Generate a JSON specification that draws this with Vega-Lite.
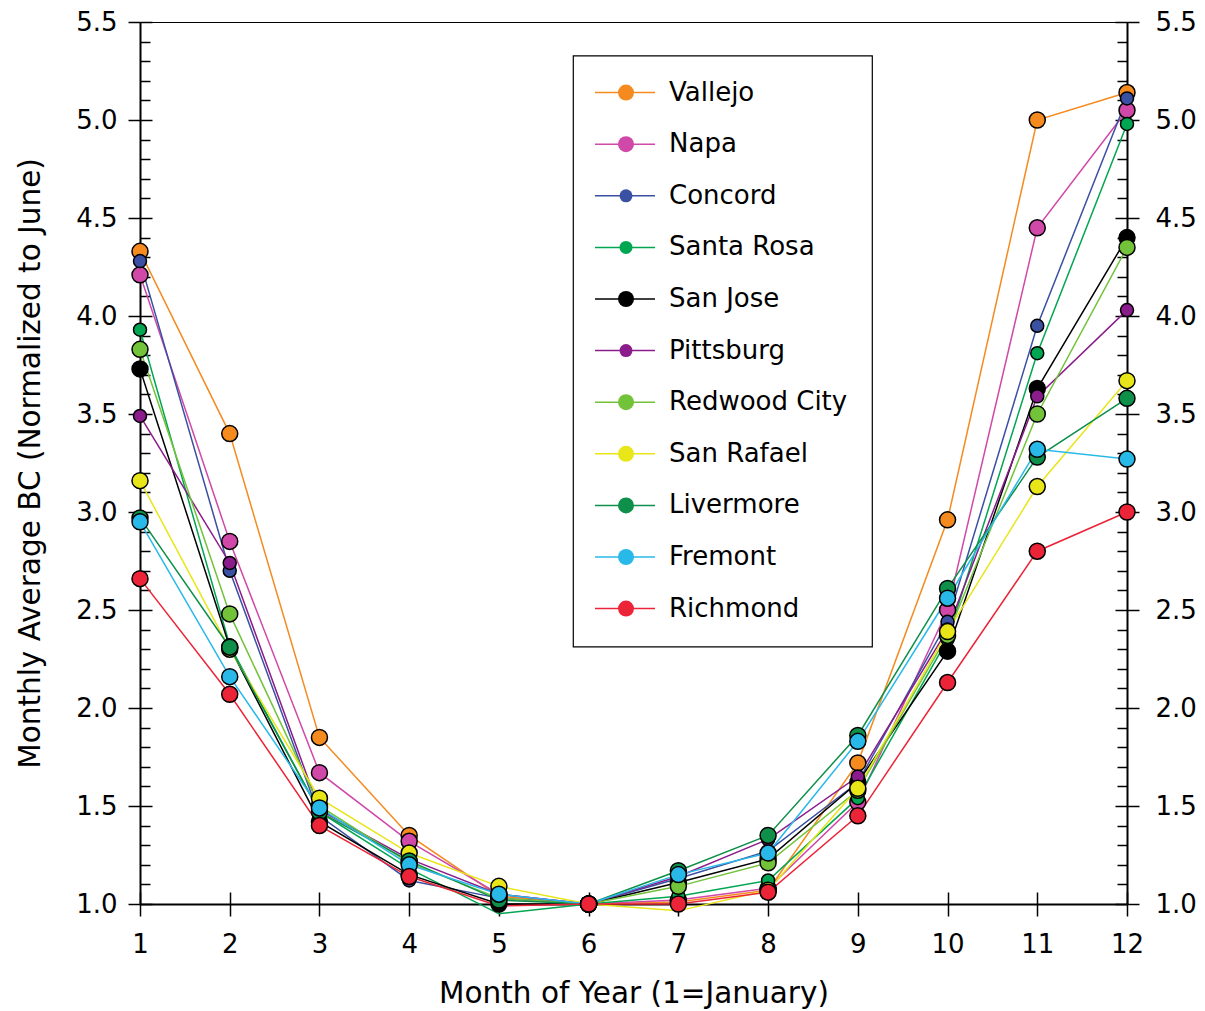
{
  "$schema": "https://vega.github.io/schema/vega-lite/v6.json",
  "width": 987,
  "height": 882,
  "autosize": "none",
  "padding": {"left": 140, "top": 22, "right": 78, "bottom": 107},
  "background": "white",
  "config": {
    "font": "DejaVu Sans",
    "view": {"stroke": "black", "strokeWidth": 1},
    "axis": {"grid": false, "domainColor": "black", "tickColor": "black", "labelColor": "black", "titleColor": "black", "labelFont": "DejaVu Sans", "titleFont": "DejaVu Sans", "titleFontWeight": "normal"},
    "legend": {"strokeWidth": 1.2}
  },
  "data": {"values": [
    {"city": "Vallejo", "month": 1, "bc": 4.33}, {"city": "Vallejo", "month": 2, "bc": 3.40}, {"city": "Vallejo", "month": 3, "bc": 1.85}, {"city": "Vallejo", "month": 4, "bc": 1.35}, {"city": "Vallejo", "month": 5, "bc": 1.04}, {"city": "Vallejo", "month": 6, "bc": 1.0}, {"city": "Vallejo", "month": 7, "bc": 1.01}, {"city": "Vallejo", "month": 8, "bc": 1.07}, {"city": "Vallejo", "month": 9, "bc": 1.72}, {"city": "Vallejo", "month": 10, "bc": 2.96}, {"city": "Vallejo", "month": 11, "bc": 5.00}, {"city": "Vallejo", "month": 12, "bc": 5.14},
    {"city": "Napa", "month": 1, "bc": 4.21}, {"city": "Napa", "month": 2, "bc": 2.85}, {"city": "Napa", "month": 3, "bc": 1.67}, {"city": "Napa", "month": 4, "bc": 1.32}, {"city": "Napa", "month": 5, "bc": 1.05}, {"city": "Napa", "month": 6, "bc": 1.0}, {"city": "Napa", "month": 7, "bc": 1.02}, {"city": "Napa", "month": 8, "bc": 1.08}, {"city": "Napa", "month": 9, "bc": 1.52}, {"city": "Napa", "month": 10, "bc": 2.50}, {"city": "Napa", "month": 11, "bc": 4.45}, {"city": "Napa", "month": 12, "bc": 5.05},
    {"city": "Concord", "month": 1, "bc": 4.28}, {"city": "Concord", "month": 2, "bc": 2.70}, {"city": "Concord", "month": 3, "bc": 1.45}, {"city": "Concord", "month": 4, "bc": 1.12}, {"city": "Concord", "month": 5, "bc": 1.03}, {"city": "Concord", "month": 6, "bc": 1.0}, {"city": "Concord", "month": 7, "bc": 1.13}, {"city": "Concord", "month": 8, "bc": 1.27}, {"city": "Concord", "month": 9, "bc": 1.62}, {"city": "Concord", "month": 10, "bc": 2.44}, {"city": "Concord", "month": 11, "bc": 3.95}, {"city": "Concord", "month": 12, "bc": 5.11},
    {"city": "Santa Rosa", "month": 1, "bc": 3.93}, {"city": "Santa Rosa", "month": 2, "bc": 2.32}, {"city": "Santa Rosa", "month": 3, "bc": 1.47}, {"city": "Santa Rosa", "month": 4, "bc": 1.18}, {"city": "Santa Rosa", "month": 5, "bc": 0.95}, {"city": "Santa Rosa", "month": 6, "bc": 1.0}, {"city": "Santa Rosa", "month": 7, "bc": 1.04}, {"city": "Santa Rosa", "month": 8, "bc": 1.12}, {"city": "Santa Rosa", "month": 9, "bc": 1.54}, {"city": "Santa Rosa", "month": 10, "bc": 2.35}, {"city": "Santa Rosa", "month": 11, "bc": 3.81}, {"city": "Santa Rosa", "month": 12, "bc": 4.98},
    {"city": "San Jose", "month": 1, "bc": 3.73}, {"city": "San Jose", "month": 2, "bc": 2.31}, {"city": "San Jose", "month": 3, "bc": 1.42}, {"city": "San Jose", "month": 4, "bc": 1.15}, {"city": "San Jose", "month": 5, "bc": 1.00}, {"city": "San Jose", "month": 6, "bc": 1.0}, {"city": "San Jose", "month": 7, "bc": 1.11}, {"city": "San Jose", "month": 8, "bc": 1.23}, {"city": "San Jose", "month": 9, "bc": 1.62}, {"city": "San Jose", "month": 10, "bc": 2.29}, {"city": "San Jose", "month": 11, "bc": 3.63}, {"city": "San Jose", "month": 12, "bc": 4.40},
    {"city": "Pittsburg", "month": 1, "bc": 3.49}, {"city": "Pittsburg", "month": 2, "bc": 2.74}, {"city": "Pittsburg", "month": 3, "bc": 1.48}, {"city": "Pittsburg", "month": 4, "bc": 1.23}, {"city": "Pittsburg", "month": 5, "bc": 1.05}, {"city": "Pittsburg", "month": 6, "bc": 1.0}, {"city": "Pittsburg", "month": 7, "bc": 1.14}, {"city": "Pittsburg", "month": 8, "bc": 1.33}, {"city": "Pittsburg", "month": 9, "bc": 1.65}, {"city": "Pittsburg", "month": 10, "bc": 2.40}, {"city": "Pittsburg", "month": 11, "bc": 3.59}, {"city": "Pittsburg", "month": 12, "bc": 4.03},
    {"city": "Redwood City", "month": 1, "bc": 3.83}, {"city": "Redwood City", "month": 2, "bc": 2.48}, {"city": "Redwood City", "month": 3, "bc": 1.50}, {"city": "Redwood City", "month": 4, "bc": 1.21}, {"city": "Redwood City", "month": 5, "bc": 1.03}, {"city": "Redwood City", "month": 6, "bc": 1.0}, {"city": "Redwood City", "month": 7, "bc": 1.09}, {"city": "Redwood City", "month": 8, "bc": 1.21}, {"city": "Redwood City", "month": 9, "bc": 1.58}, {"city": "Redwood City", "month": 10, "bc": 2.37}, {"city": "Redwood City", "month": 11, "bc": 3.50}, {"city": "Redwood City", "month": 12, "bc": 4.35},
    {"city": "San Rafael", "month": 1, "bc": 3.16}, {"city": "San Rafael", "month": 2, "bc": 2.30}, {"city": "San Rafael", "month": 3, "bc": 1.54}, {"city": "San Rafael", "month": 4, "bc": 1.26}, {"city": "San Rafael", "month": 5, "bc": 1.09}, {"city": "San Rafael", "month": 6, "bc": 1.0}, {"city": "San Rafael", "month": 7, "bc": 0.965}, {"city": "San Rafael", "month": 8, "bc": 1.07}, {"city": "San Rafael", "month": 9, "bc": 1.59}, {"city": "San Rafael", "month": 10, "bc": 2.39}, {"city": "San Rafael", "month": 11, "bc": 3.13}, {"city": "San Rafael", "month": 12, "bc": 3.67},
    {"city": "Livermore", "month": 1, "bc": 2.97}, {"city": "Livermore", "month": 2, "bc": 2.31}, {"city": "Livermore", "month": 3, "bc": 1.47}, {"city": "Livermore", "month": 4, "bc": 1.22}, {"city": "Livermore", "month": 5, "bc": 1.02}, {"city": "Livermore", "month": 6, "bc": 1.0}, {"city": "Livermore", "month": 7, "bc": 1.17}, {"city": "Livermore", "month": 8, "bc": 1.35}, {"city": "Livermore", "month": 9, "bc": 1.86}, {"city": "Livermore", "month": 10, "bc": 2.61}, {"city": "Livermore", "month": 11, "bc": 3.28}, {"city": "Livermore", "month": 12, "bc": 3.58},
    {"city": "Fremont", "month": 1, "bc": 2.95}, {"city": "Fremont", "month": 2, "bc": 2.16}, {"city": "Fremont", "month": 3, "bc": 1.49}, {"city": "Fremont", "month": 4, "bc": 1.20}, {"city": "Fremont", "month": 5, "bc": 1.05}, {"city": "Fremont", "month": 6, "bc": 1.0}, {"city": "Fremont", "month": 7, "bc": 1.15}, {"city": "Fremont", "month": 8, "bc": 1.26}, {"city": "Fremont", "month": 9, "bc": 1.83}, {"city": "Fremont", "month": 10, "bc": 2.56}, {"city": "Fremont", "month": 11, "bc": 3.32}, {"city": "Fremont", "month": 12, "bc": 3.27},
    {"city": "Richmond", "month": 1, "bc": 2.66}, {"city": "Richmond", "month": 2, "bc": 2.07}, {"city": "Richmond", "month": 3, "bc": 1.40}, {"city": "Richmond", "month": 4, "bc": 1.14}, {"city": "Richmond", "month": 5, "bc": 0.99}, {"city": "Richmond", "month": 6, "bc": 1.0}, {"city": "Richmond", "month": 7, "bc": 1.00}, {"city": "Richmond", "month": 8, "bc": 1.06}, {"city": "Richmond", "month": 9, "bc": 1.45}, {"city": "Richmond", "month": 10, "bc": 2.13}, {"city": "Richmond", "month": 11, "bc": 2.80}, {"city": "Richmond", "month": 12, "bc": 3.00}
  ]},
  "layer": [
    {
      "mark": {"type": "line", "strokeWidth": 1.5},
      "encoding": {
        "x": {"field": "month", "type": "quantitative", "scale": {"domain": [1, 12], "nice": false, "zero": false},
          "axis": {"orient": "bottom", "values": [1,2,3,4,5,6,7,8,9,10,11,12], "format": "d", "tickSize": 12, "tickWidth": 1.5, "domainWidth": 2, "labelFontSize": 26, "labelPadding": 15, "labelFlush": false, "labelOverlap": false, "title": "Month of Year (1=January)", "titleFontSize": 29.5, "titlePadding": 22}},
        "y": {"field": "bc", "type": "quantitative", "scale": {"domain": [1, 5.5], "nice": false, "zero": false},
          "axis": {"orient": "left", "values": [1,1.5,2,2.5,3,3.5,4,4.5,5,5.5], "format": ".1f", "tickSize": 12, "tickWidth": 1.5, "domainWidth": 2, "labelFontSize": 26, "labelPadding": 11, "labelFlush": false, "labelOverlap": false, "title": "Monthly Average BC (Normalized to June)", "titleFontSize": 29.5, "titlePadding": 30}},
        "stroke": {"field": "city", "type": "nominal", "sort": null,
          "scale": {"range": ["#F58A1F", "#D048A8", "#3A50A2", "#00A651", "#000000", "#8B1C8C", "#72C23A", "#E8E619", "#0E8F4A", "#29B9E9", "#EC2437"]},
          "legend": {"title": null, "orient": "none", "legendX": 433, "legendY": 33.6, "symbolType": "M-1.667,0H5", "symbolSize": 324, "symbolStrokeWidth": 1.5, "labelFontSize": 26, "labelFont": "DejaVu Sans", "labelColor": "black", "labelOffset": 46, "rowPadding": 25.6, "padding": 24, "strokeColor": "black", "fillColor": "white", "labelLimit": 400}}
      }
    },
    {
      "transform": [{"filter": "datum.bc >= 1"}],
      "mark": {"type": "point", "filled": true, "stroke": "black", "strokeWidth": 1.5, "opacity": 1},
      "encoding": {
        "x": {"field": "month", "type": "quantitative", "scale": {"domain": [1, 12], "nice": false, "zero": false}, "axis": null},
        "y": {"field": "bc", "type": "quantitative", "scale": {"domain": [1, 5.5], "nice": false, "zero": false},
          "axis": {"orient": "right", "values": [1,1.5,2,2.5,3,3.5,4,4.5,5,5.5], "format": ".1f", "tickSize": 12, "tickWidth": 1.5, "domainWidth": 2, "labelFontSize": 26, "labelPadding": 16, "labelFlush": false, "labelOverlap": false, "title": null}},
        "fill": {"field": "city", "type": "nominal",
          "scale": {"domain": ["Vallejo", "Napa", "Concord", "Santa Rosa", "San Jose", "Pittsburg", "Redwood City", "San Rafael", "Livermore", "Fremont", "Richmond"], "range": ["#F58A1F", "#D048A8", "#3A50A2", "#00A651", "#000000", "#8B1C8C", "#72C23A", "#E8E619", "#0E8F4A", "#29B9E9", "#EC2437"]},
          "legend": {"title": null, "orient": "none", "legendX": 449, "legendY": 33.6, "symbolType": "circle", "symbolStrokeColor": "black", "symbolStrokeWidth": 1.5, "labelFontSize": 26, "labelExpr": "''", "labelOffset": 0, "rowPadding": 25.6, "padding": 24}},
        "size": {"field": "city", "type": "nominal",
          "scale": {"type": "ordinal", "domain": ["Vallejo", "Napa", "Concord", "Santa Rosa", "San Jose", "Pittsburg", "Redwood City", "San Rafael", "Livermore", "Fremont", "Richmond"], "range": [256, 256, 169, 169, 256, 169, 256, 256, 256, 256, 256]},
          "legend": {"title": null, "orient": "none", "legendX": 449, "legendY": 33.6, "symbolType": "circle", "symbolStrokeColor": "black", "symbolStrokeWidth": 1.5, "labelFontSize": 26, "labelExpr": "''", "labelOffset": 0, "rowPadding": 25.6, "padding": 24}}
      }
    },
    {
      "mark": {"type": "point", "opacity": 0},
      "encoding": {
        "x": {"field": "month", "type": "quantitative", "scale": {"domain": [1, 12], "nice": false, "zero": false},
          "axis": {"orient": "bottom", "values": [1,2,3,4,5,6,7,8,9,10,11,12], "tickSize": -12, "tickWidth": 1.5, "domain": false, "labels": false, "title": null}},
        "y": {"field": "bc", "type": "quantitative", "scale": {"domain": [1, 5.5], "nice": false, "zero": false},
          "axis": {"orient": "left", "values": [1,1.1,1.2,1.3,1.4,1.5,1.6,1.7,1.8,1.9,2,2.1,2.2,2.3,2.4,2.5,2.6,2.7,2.8,2.9,3,3.1,3.2,3.3,3.4,3.5,3.6,3.7,3.8,3.9,4,4.1,4.2,4.3,4.4,4.5,4.6,4.7,4.8,4.9,5,5.1,5.2,5.3,5.4,5.5],
            "tickSize": {"condition": {"test": "abs(datum.value*2 - round(datum.value*2)) < 0.01", "value": -12}, "value": -10}, "tickWidth": 1.5, "domain": false, "labels": false, "title": null}}
      }
    },
    {
      "mark": {"type": "point", "opacity": 0},
      "encoding": {
        "x": {"field": "month", "type": "quantitative", "scale": {"domain": [1, 12], "nice": false, "zero": false}, "axis": null},
        "y": {"field": "bc", "type": "quantitative", "scale": {"domain": [1, 5.5], "nice": false, "zero": false},
          "axis": {"orient": "right", "values": [1,1.1,1.2,1.3,1.4,1.5,1.6,1.7,1.8,1.9,2,2.1,2.2,2.3,2.4,2.5,2.6,2.7,2.8,2.9,3,3.1,3.2,3.3,3.4,3.5,3.6,3.7,3.8,3.9,4,4.1,4.2,4.3,4.4,4.5,4.6,4.7,4.8,4.9,5,5.1,5.2,5.3,5.4,5.5],
            "tickSize": {"condition": {"test": "abs(datum.value*2 - round(datum.value*2)) < 0.01", "value": -12}, "value": -10}, "tickWidth": 1.5, "domain": false, "labels": false, "title": null}}
      }
    }
  ],
  "resolve": {"axis": {"x": "independent", "y": "independent"}}
}
